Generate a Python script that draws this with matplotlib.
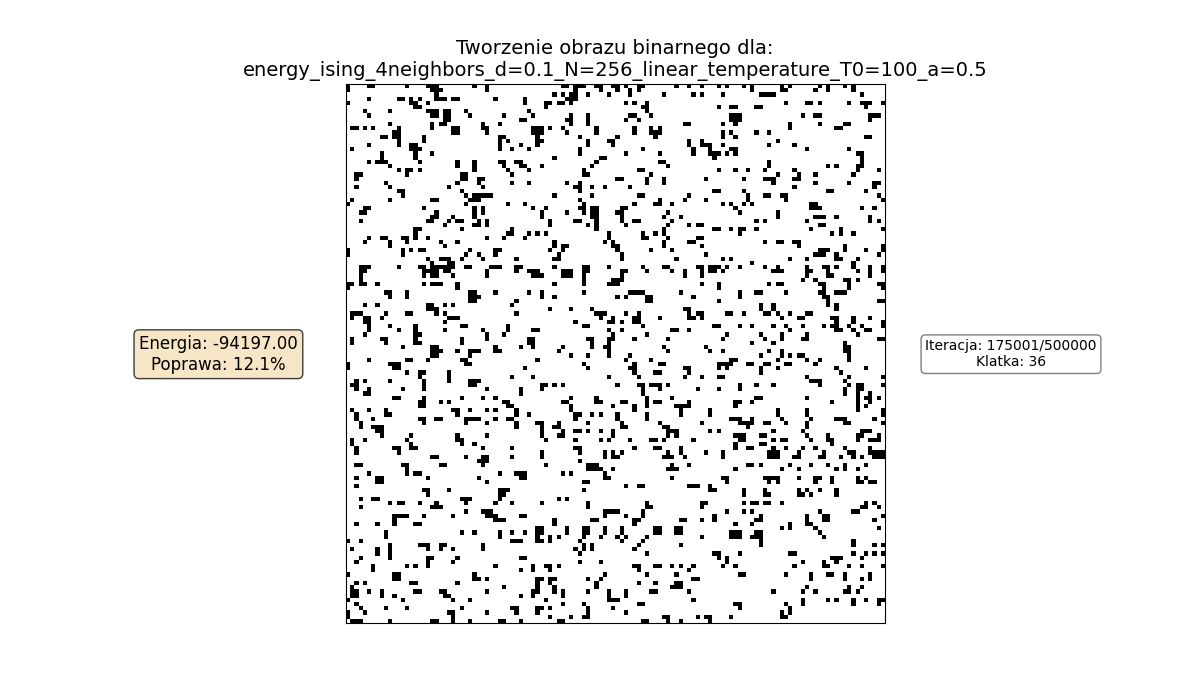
import matplotlib
matplotlib.use("Agg")
import matplotlib.pyplot as plt
import numpy as np

# texts
TITLE = ("Tworzenie obrazu binarnego dla:\n"
         "energy_ising_4neighbors_d=0.1_N=256_linear_temperature_T0=100_a=0.5")
energy = -94197.00
improvement = 12.1      # percent
iteration = 175001
total_iterations = 500000
frame = 36

# the 256x256 state is traced at half resolution (128x128), in 3x3 tiles of 43 cells;
# every string is one tile row and lists the black columns ("a-b" is a run)
GRID = 128
TILE = 43

tile_00 = [
    "0 5-6 14 19-21 30 33", "0 20-22 33", "21", "5 12-13 15 17 21-23 25-26 35 42",
    "0 15-16 19 42", "16-17", "4 10 19-21 23-24 28", "5 20-21 23-24 29 37",
    "23-24 41-42", "10 20 22-23 32 36", "1-2 4 6 12 20 25-26 32-33", "11-12 25-26 33",
    "8-9 11-12 18 36-37", "12 18 36 38", "5 12 15-16 36 41", "1 15-17 36 39",
    "8 16 20", "8 16", "5 7-9 17 26 30 36-37 40-41", "10 26 30 37 41-42",
    "12 14-15 17 30 38", "2-3 14 27-28 39", "2 27-28 31-32", "9 26 31 39",
    "2 10 24 32", "12-13 27", "13 28 30-34", "1 10 20-21 29-31",
    "0 28 38 42", "4-5 18 30 32", "3-4 21 30 32", "20-21 25 30",
    "3 19-20 24 26-27 31 33", "23 30-31 33", "16-17 27 39", "16 38-39",
    "5 8-9 13-14 16 19 33 37 42", "4 10 14 22 26", "10 23", "0 13 15 17-18 29 35-36",
    "0 13 28 31 35", "19 22-24 27 32 40", "20 24-25",
]

tile_01 = [
    "8-9 11-13 16-17 20-21 23 26-27 35 38 41", "11 17 21 24 26", "6 8 10-11 14 19 24 32 39 41",
    "9-11", "4-5 7-8 10 23 25 28", "4 27-28", "0 28", "1 10 14 24-25 29",
    "9-10 14 23 26", "10 14 37-38", "1-3 5 8 16 25 29 31", "1-3 9 16 25 29-31",
    "2 12 21 30", "2-3 14 19-20 38 41", "2 14 20 38 41-42", "0 12 27 39",
    "12 23 31 39", "6 17-18", "16 31-32", "3 15 33",
    "0 13 26-27", "13-14 29", "21-22 28 32 42", "0 9 12 28 32",
    "11-12 15 18 24", "12", "6 15 26-27 38", "12 31 37 42",
    "13 25 30-31 34", "1 4 12-13 15-16 22-23", "3 9 13 15-16 21-22 33", "3 15-16 22 32 36",
    "5 11-12 16 22 25-26 34", "5 14 16 23 33 38 40-41", "16 32", "0 2 4 19 27 30 32",
    "19 27-28 33 40-41", "6 18 20 32 38-39", "6 8-9 20-21 32 41", "5 8 21 29 34",
    "7 22 42", "6-7 22 35", "",
]

tile_02 = [
    "2 4 8 10 17 19 26 28 32 34", "10 17-18 25 28 34", "3 12-15 36", "",
    "18 23-24 26 33 36-38 41", "2 5-6 11-12 37", "", "5-7 22 25-26 38-40 42",
    "5-7 38", "3 6 19 26 32-33", "19 30-31", "3 5 11 14",
    "3 6 37-38", "16", "0 3 14 20", "0 5-6 23 33",
    "0-2 4 6 35-36", "1 36", "14 36 42", "14 28 30 35-36",
    "2 6 9 13 20 35 40", "16 21 25 34", "8 13-15 20-21", "15 25 33 39-40",
    "20 39", "1-2 8 28-29 37", "9 13-14 17-18 40", "9 18 41",
    "3 5 8 10 24-25", "6 24-26 36 39", "7 16", "16 25-27 30 38",
    "11 13 23 38 40", "26-27", "1-2 5 7-8 11 24 31 41", "7 29 31 34",
    "", "13 16-17 20-21", "21 32 41", "26-28 32 37 41",
    "25-27 30 40", "3 5 19 23 30-31 35", "10 34",
]

tile_10 = [
    "3-5 12 17-18 20-25 28-29 34-36 40-41", "3-4 18-21 23-24 33 40", "3 18 20-21 25 33", "3",
    "0-1 3-4 7 18 20-22 26", "0 26", "9-10 14 29-30 35", "10 14 29-31",
    "29-30 40", "4 7 19-20 23 25 39", "19-21", "1-3 9 14-15 21 23 40",
    "1 4-5 8 24-26", "4-5 23", "5 10 16 27-28 38", "5 12 16 23 32 38",
    "4 16-17 33 37", "1 8-9 16 27 33", "1 9 16-17 27", "13 20-21 35 41",
    "20-22 26 29-31 35-36", "20-21 29", "5 14-15 19 27-28", "0 10-12 28-29",
    "0 11-12 42", "14 17-18 24", "17 24 39", "2 4 10 18 24 29-31",
    "1-2 18 29-30", "2 5 13 18 33 41", "4-5 41", "11-12 18 27 32 35",
    "17-18 22 24 37-38", "17-18 38-39", "1 5 9 25-26 29 33 35 40", "2 9-10 26 40",
    "2 6 17-18 21-22 28-31 35 38-39", "3 18 28 33 40", "3 6-8 40", "7-8",
    "8 15 26 33", "1 4 14 26-27", "1 15 27 30",
]

tile_11 = [
    "6 13-14 19 27 32-33 40-41", "0-2 8-10 13-14 22-23 28 34 37 41", "1-3 8-10 13 22 37 41", "13 20-22",
    "6 13 19-21 41", "", "0 3 13 24-27 36", "3 6 21 23 28-29 39",
    "28-29", "", "5 10 15 37-38", "16-18 23 26 38 40-41",
    "17 20 25-26 31 38-39 41", "11 19-20 22 25-26", "13-14 27", "1-2 19 22 34-35 38",
    "20 28", "0-1 14-15 19-20 25 33", "0-1 15 19", "1 8 15 18-19 32 42",
    "7 19 33", "10 14 19 24", "2 23 29", "13 25 31-32",
    "14 24-25 37-38", "25 30-31 38", "1 19 26 37 41", "",
    "3-4 6 8 21 26-27 29-31 33", "3 27 31 40", "27", "10 16 28 34",
    "8-9 16-17 22-23 28 30-31 38", "10 20 25 28 35-38", "10 25 36", "0 11-12 15 17 21 28 36",
    "11 21 28", "2-3 7 14 22 31 41", "3 6-7 22-23 32-33", "3 8 11-12 14 17 20 33-35",
    "3 7-8 20 33 35", "4 11 17 19 24 29-30 32 39", "",
]

tile_12 = [
    "0-2 4 7 13 16 23 27-28 30 34 38 41-42", "0-1 3 15-17 23-24 28 35 38 41", "23 28-29 38", "22 25 32-33 35",
    "2 14 16-17 26-27 33 40-42", "2 27 33 41-42", "7 11-12 18 26-27 30-32", "7 27-28",
    "2 28 40-41", "12 15 28 30", "12 15 30", "4-5 8 13-14 16 19 23-24",
    "17 21-22 29-30 34 38 42", "30 34 41-42", "1-2 7 10 15 18 22 27 29-30 33 36 41-42", "19 30-31 34 37-38",
    "4 12 17 23 35", "3 13 17 22-23 40-41", "10 15 32", "32-33",
    "0 3 14 17 32-33", "12 17 19 21-22 33", "5-6 16 23 26 33", "2-5 9-10 13-14 18-19 25",
    "2 4 12 16 30 37", "12 31", "2-3 23 33 41", "24-26 32",
    "7 11 15 26 33 35-36 41", "2 7 32 35-36", "32 35 38", "11-12 23 35 37-38 40",
    "6-7 10 29 35 38", "6 35 37", "0 16 23 35 41", "0 16 23 41",
    "5-7 10 17 24 30-32 39", "7-10 13-14 18 23 32-33 41", "9 23", "0 2 15 22 36-38",
    "6-8 12-13 23 28 35-36 40", "7-8 15 17-18 24 28-29 35 38-40", "6 12-13 29",
]

tile_20 = [
    "2 11-12 15-16 32 39", "2 12", "20-21 28 32-33 39", "31-33",
    "2-3 13-14 22-23 32", "14", "5 14 16-17 36 40-42", "2 7-8 19 31 41-42",
    "7-8 33", "2", "18-19 24 36-38", "19 36-37",
    "3 6-7 27-29 36", "10 12-13 17 21 28 35 39", "3 20-22", "28 32-34",
    "11-14 18 25 33-35 41-42", "11 35-37", "2 7 11 16-17", "",
    "9 27 30 36 39 42", "9 36", "0 3 39-41", "10 17-19 22-23 32",
    "1 7 10 19 22 25 32", "7 10", "3 10 19-20 26 41-42", "2 19 25",
    "6 14 16 19 35", "6 41", "0 11-12 30", "11-12 30-31 33",
    "2 4 15-16 26", "1 37", "1-2 5 8 16-17 22-23 33", "1-2 8 11 23-24 41",
    "0 13 25 29", "2", "3 9 14 27 39-40", "0 4 24-25 33 40",
    "0 25", "1-3 10 20-21 25 29 36-37 41", "1-3 21 28-29 36",
]

tile_21 = [
    "11-12 25 30-31 36", "3 12 18 20 22 33 36 42", "3 18 20-21 32-34 37", "12",
    "4 14-16 34 38", "14-17 20 33-35", "8 10 18", "18-19 34",
    "13-14", "23 26-27 38-40", "13", "",
    "7 9", "3 14 28 41-42", "14 28-29 41", "18-21 27",
    "18 23 27", "6 15-16 25-26 36-37 41", "6 25", "2-3 9 13-14 18 22 30-31 35-36",
    "2-3 9 13-14 18 22 30-31 35-36", "2 5 7 13 17 21 23 28 41", "2-3 5 12 22 27", "13 15 26 36",
    "11 13 15 25", "12 28", "", "12 17",
    "1 4-5 7 25-26 30-31 34 36 39", "1 5 26 38", "18 28 35", "2-3 5-6 14 17 39-40",
    "2 5 16 26 30 35-36", "2 6 16 34-36", "1-2 6 8 14 19 23 29-30 38", "1 8 19 23",
    "4 19-21 39", "8 13 26-27", "2-3 5 14 20", "2 14 23",
    "5 10 13-14 32-33 40 42", "7-8 27-28 33 36", "27 35-36",
]

tile_22 = [
    "6 9-10 15 18 22 25 32 38", "3 14-16 21 27 33-34 38-41", "3 14-16 20-21 26-27 31 34 36 39-41", "",
    "9-10 12 19 24 28 32 37 42", "6 17 21 30 32 35", "", "3-4 13-16 21 25-26 29 35 37",
    "4 14 16 25 29 35-36 38-39", "0", "0-1 8 13 21 23 26 30", "8 13-14 21-22 24 30",
    "", "8 10-11 13-14 17 37 39", "36-37 40", "4 8 10 26 34-35",
    "1 12 23 27-28 41-42", "1 11-12 23 27-28 39", "6 10 19 23-24", "17 19 25 40 42",
    "5-7 11-12 26 42", "5-7 10-12 27 42", "12 34", "12 34 39 41-42",
    "", "1-2 7 19-20 34 37 39 41", "2 4 29-31 36", "4 22 27 30",
    "3 6 20 27-28 33 36 41", "", "7-8 18 24 28-29 32 38", "24 32 36 38",
    "", "23 33 36", "15 22 25 32-33 35", "",
    "22 28 30 34 37 40-41", "6-7 18 22 34 40", "7 19", "17 19",
    "0 5 17-18", "0", "14 17 26-29 33 37-39",
]

tiles = [[tile_00, tile_01, tile_02],
         [tile_10, tile_11, tile_12],
         [tile_20, tile_21, tile_22]]


def parse_cols(line):
    cols = []
    for part in line.split():
        if "-" in part:
            a, b = part.split("-")
            cols.extend(range(int(a), int(b) + 1))
        else:
            cols.append(int(part))
    return cols


state = np.zeros((GRID, GRID))
for ty, tile_row in enumerate(tiles):
    for tx, tile in enumerate(tile_row):
        for r, line in enumerate(tile):
            y = ty * TILE + r
            for c in parse_cols(line):
                x = tx * TILE + c
                if y < GRID and x < GRID:
                    state[y, x] = 1

fig, ax = plt.subplots(figsize=(12, 7), dpi=100)
ax.imshow(state, cmap="binary", vmin=0, vmax=1, interpolation="nearest")
ax.set_xticks([])
ax.set_yticks([])
ax.set_title(TITLE, fontsize=14)

# info boxes left and right of the image
fig.text(0.182, 0.494, f"Energia: {energy:.2f}\nPoprawa: {improvement:.1f}%",
         ha="center", va="center", fontsize=12,
         bbox=dict(boxstyle="round", facecolor="wheat", alpha=0.75))
fig.text(0.8425, 0.494, f"Iteracja: {iteration}/{total_iterations}\nKlatka: {frame}",
         ha="center", va="center", fontsize=10,
         bbox=dict(boxstyle="round", facecolor="white", alpha=0.5))

fig.savefig("out.png", dpi=100)
